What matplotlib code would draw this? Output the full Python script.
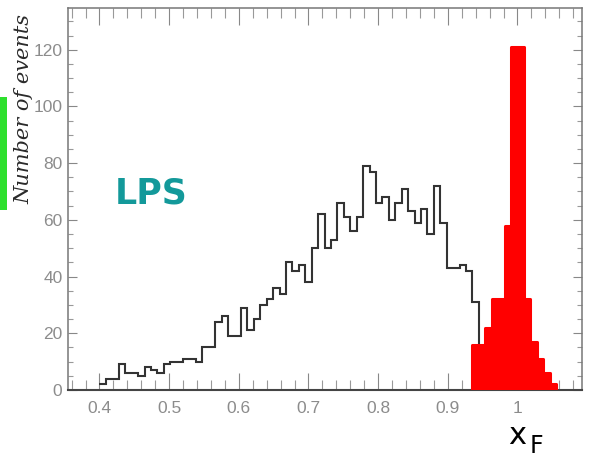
import numpy as np
import matplotlib
matplotlib.use("Agg")
import matplotlib.pyplot as plt
from matplotlib.patches import Rectangle
from matplotlib.ticker import MultipleLocator

# Histogram binning shared by both samples
bin_start = 0.40
bin_width = 0.6 / 65

# Full x_F spectrum (black outline)
all_counts = [2, 4, 4, 9, 6, 6, 5, 8, 7, 6,
              9, 10, 10, 11, 11, 10, 15, 15, 24, 26,
              19, 19, 29, 21, 25, 30, 32, 36, 34, 45,
              42, 44, 38, 50, 62, 50, 53, 66, 61, 56,
              61, 79, 77, 66, 68, 60, 66, 71, 63, 59,
              64, 55, 72, 59, 43, 43, 44, 42, 31, 14]

# Leading-proton selection (red, filled), starting at bin index 58
lps_first_bin = 58
lps_counts = [16, 16, 22, 32, 32, 58, 121, 121, 32, 17, 11, 6, 2]

x_ticks = [0.4, 0.5, 0.6, 0.7, 0.8, 0.9, 1.0]
x_tick_labels = ["0.4", "0.5", "0.6", "0.7", "0.8", "0.9", "1"]
y_ticks = [0, 20, 40, 60, 80, 100, 120]

W, H = 592, 459
fig = plt.figure(figsize=(W / 100, H / 100), dpi=100)
ax = fig.add_axes([68 / W, 1 - 390 / H, (582 - 68) / W, (390 - 8) / H])

edges = bin_start + bin_width * np.arange(len(all_counts) + 1)
ax.stairs(all_counts, edges, color="#333333", linewidth=1.5, baseline=None, zorder=2)

lps_edges = bin_start + bin_width * np.arange(lps_first_bin, lps_first_bin + len(lps_counts) + 1)
red = ax.stairs(lps_counts, lps_edges, fill=True, facecolor="#ff0000",
                edgecolor="#ff0000", linewidth=2.2, zorder=3)
red.set_joinstyle("round")
red.set_capstyle("round")

ax.set_xlim(0.3548, 1.0926)
ax.set_ylim(0, 134.7)

ax.set_xticks(x_ticks)
ax.set_xticklabels(x_tick_labels)
ax.set_yticks(y_ticks)
ax.xaxis.set_minor_locator(MultipleLocator(0.02))
ax.yaxis.set_minor_locator(MultipleLocator(5))

for lab in ax.get_xticklabels() + ax.get_yticklabels():
    lab.set_fontfamily(["Liberation Sans", "DejaVu Sans"])
    lab.set_fontsize(12.5)
    lab.set_color("#8c8c8c")

ax.tick_params(axis="x", which="major", direction="in", length=12, width=0.8,
               color="#888888", top=True, bottom=True, pad=8)
ax.tick_params(axis="x", which="minor", direction="in", length=7, width=0.8,
               color="#999999", top=True, bottom=True)
ax.tick_params(axis="y", which="major", direction="in", length=6.5, width=0.8,
               color="#888888", left=True, right=True, pad=4)
ax.tick_params(axis="y", which="minor", direction="in", length=3.6, width=0.8,
               color="#999999", left=True, right=True)

for side in ["left", "right", "top"]:
    ax.spines[side].set_color("#777777")
    ax.spines[side].set_linewidth(1.1)
ax.spines["bottom"].set_color("#444444")
ax.spines["bottom"].set_linewidth(1.5)


def fx(px):
    return px / W


def fy(py):
    return 1 - py / H


fig.text(fx(24), fy(109), "Number of events", rotation=90, ha="center", va="center",
         family=["DejaVu Serif"], style="italic", size=15, color="#2a2a2a")

fig.text(fx(151), fy(193), "LPS", ha="center", va="center",
         family=["DejaVu Sans"], weight="bold", size=25, color="#13999a")

fig.text(fx(508), fy(444), "x", ha="left", va="baseline",
         family=["DejaVu Sans"], size=22, color="black")
fig.text(fx(530), fy(453), "F", ha="left", va="baseline",
         family=["DejaVu Sans"], size=17, color="black")

fig.patches.append(Rectangle((0, fy(210)), fx(7), (210 - 97) / H,
                             transform=fig.transFigure, facecolor="#2ee02e",
                             edgecolor="none"))

fig.savefig("out.png", dpi=100)
